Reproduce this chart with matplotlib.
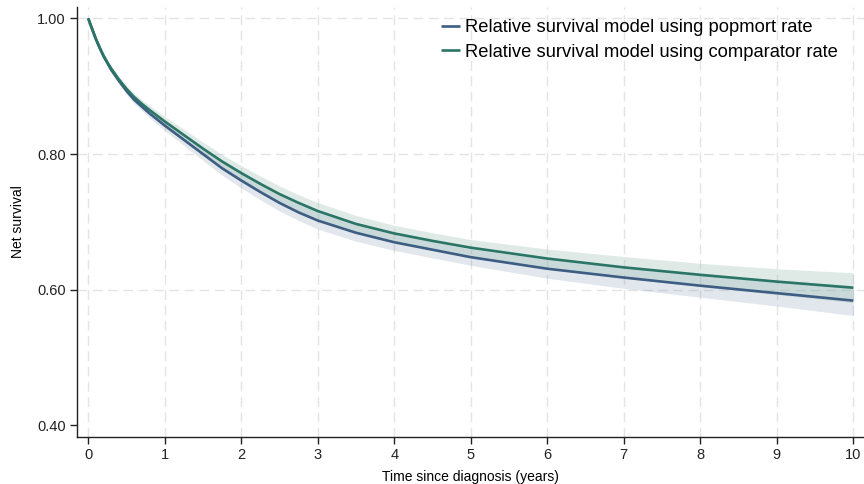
import matplotlib
matplotlib.use("Agg")
import matplotlib.pyplot as plt
import numpy as np

plt.rcParams['font.family'] = ['Liberation Sans', 'DejaVu Sans']

# Data
time = [0, 0.05, 0.1, 0.15, 0.2, 0.25, 0.3, 0.4, 0.5, 0.6, 0.7, 0.8, 0.9, 1.0,
        1.25, 1.5, 1.75, 2.0, 2.25, 2.5, 2.75, 3.0, 3.5, 4.0, 4.5, 5.0, 5.5,
        6.0, 7.0, 8.0, 9.0, 10.0]
popmort = [1.0, 0.984, 0.969, 0.956, 0.944, 0.934, 0.924, 0.908, 0.893, 0.880,
           0.870, 0.860, 0.851, 0.842, 0.821, 0.800, 0.779, 0.761, 0.744, 0.728,
           0.714, 0.702, 0.684, 0.670, 0.659, 0.648, 0.6395, 0.631, 0.618, 0.606,
           0.595, 0.584]
comparator = [1.0, 0.985, 0.970, 0.957, 0.945, 0.935, 0.926, 0.910, 0.896, 0.884,
              0.874, 0.865, 0.8565, 0.848, 0.828, 0.808, 0.789, 0.772, 0.756, 0.741,
              0.728, 0.716, 0.697, 0.683, 0.672, 0.662, 0.654, 0.646, 0.633, 0.622,
              0.612, 0.603]
ci_halfwidth = [0.0, 0.001, 0.002, 0.0025, 0.003, 0.0035, 0.004, 0.0045, 0.005,
                0.0055, 0.006, 0.0065, 0.007, 0.0075, 0.0085, 0.0095, 0.0102, 0.011,
                0.0115, 0.012, 0.012, 0.0125, 0.0125, 0.012, 0.012, 0.012, 0.013,
                0.014, 0.016, 0.017, 0.019, 0.022]
labels = ["Relative survival model using popmort rate",
          "Relative survival model using comparator rate"]
xticks = list(range(0, 11))
yticks = [0.40, 0.60, 0.80, 1.00]

blue = "#3d5d82"
green = "#2a7566"

t = np.array(time)
p = np.array(popmort)
c = np.array(comparator)
hw = np.array(ci_halfwidth)

fig = plt.figure(figsize=(8.64, 4.84), dpi=100)
ax = fig.add_axes([77/864, 1-437/484, 787/864, 430/484])

ax.fill_between(t, p - hw, p + hw, color="#8aa0b8", alpha=0.25, lw=0)
ax.fill_between(t, c - hw, c + hw, color="#8ab5a8", alpha=0.27, lw=0)
ax.plot(t, p, color=blue, lw=1.9, label=labels[0], solid_capstyle='butt')
ax.plot(t, c, color=green, lw=1.9, label=labels[1], solid_capstyle='butt')

ax.set_xlim(-0.147, 10.14)
ax.set_ylim(0.383, 1.0167)
ax.set_xticks(xticks)
ax.set_yticks(yticks)
ax.set_yticklabels([f"{v:.2f}" for v in yticks])

for x in xticks:
    ax.axvline(x, color="#e4e4e4", lw=1.0, ls=(0, (7, 4)), zorder=0)
for y in [0.60, 0.80, 1.00]:
    ax.axhline(y, color="#e4e4e4", lw=1.0, ls=(0, (7, 4)), zorder=0)

for s in ["top", "right"]:
    ax.spines[s].set_visible(False)
for s in ["left", "bottom"]:
    ax.spines[s].set_linewidth(1.0)
    ax.spines[s].set_color("#222222")

ax.tick_params(axis='both', labelsize=10.5, length=5, width=1.0, pad=3, colors="#222222")
ax.set_xlabel("Time since diagnosis (years)", fontsize=10, labelpad=6)
ax.set_ylabel("Net survival", fontsize=10, labelpad=9)

leg = ax.legend(loc='upper left', bbox_to_anchor=((441-77)/787, (437-19)/430),
                frameon=False, fontsize=13.2, handlelength=1.05, handletextpad=0.25,
                labelspacing=0.42, borderpad=0, borderaxespad=0)

fig.savefig("out.png", dpi=100)
